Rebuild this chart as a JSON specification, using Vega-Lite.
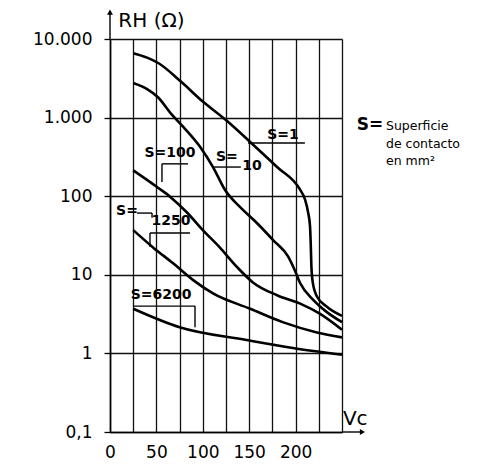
{
  "$schema": "https://vega.github.io/schema/vega-lite/v6.json",
  "width": 232,
  "height": 393,
  "autosize": {"type": "none"},
  "padding": {"left": 110, "top": 39, "right": 142, "bottom": 33},
  "background": "white",
  "config": {"view": {"stroke": null}, "font": "DejaVu Sans"},
  "datasets": {
    "curves": [
      {"S": "1", "x": 25, "y": 6600}, {"S": "1", "x": 40, "y": 5800}, {"S": "1", "x": 52, "y": 4950},
      {"S": "1", "x": 77, "y": 2830}, {"S": "1", "x": 100, "y": 1600}, {"S": "1", "x": 124, "y": 950},
      {"S": "1", "x": 151, "y": 490}, {"S": "1", "x": 180, "y": 235}, {"S": "1", "x": 205, "y": 120},
      {"S": "1", "x": 210, "y": 92}, {"S": "1", "x": 213.5, "y": 62}, {"S": "1", "x": 215.5, "y": 42},
      {"S": "1", "x": 216.3, "y": 25}, {"S": "1", "x": 217, "y": 13}, {"S": "1", "x": 218.5, "y": 8},
      {"S": "1", "x": 223, "y": 5.3}, {"S": "1", "x": 234, "y": 3.9}, {"S": "1", "x": 250, "y": 3.0},
      {"S": "10", "x": 25, "y": 2750}, {"S": "10", "x": 40, "y": 2300}, {"S": "10", "x": 52, "y": 1800},
      {"S": "10", "x": 65, "y": 1150},
      {"S": "10", "x": 79, "y": 760}, {"S": "10", "x": 97, "y": 425}, {"S": "10", "x": 111, "y": 235},
      {"S": "10", "x": 124, "y": 120}, {"S": "10", "x": 140, "y": 73}, {"S": "10", "x": 158, "y": 46},
      {"S": "10", "x": 176, "y": 27.5}, {"S": "10", "x": 192, "y": 17}, {"S": "10", "x": 199, "y": 11.5},
      {"S": "10", "x": 205, "y": 7.8}, {"S": "10", "x": 219, "y": 4.8}, {"S": "10", "x": 233, "y": 3.4},
      {"S": "10", "x": 250, "y": 2.5},
      {"S": "100", "x": 25, "y": 213}, {"S": "100", "x": 51, "y": 130}, {"S": "100", "x": 65, "y": 98},
      {"S": "100", "x": 83, "y": 62}, {"S": "100", "x": 100, "y": 37}, {"S": "100", "x": 118, "y": 22.5},
      {"S": "100", "x": 137, "y": 12.5}, {"S": "100", "x": 154, "y": 8}, {"S": "100", "x": 180, "y": 5.5},
      {"S": "100", "x": 205, "y": 4.3}, {"S": "100", "x": 226, "y": 3.2}, {"S": "100", "x": 250, "y": 2.0},
      {"S": "1250", "x": 25, "y": 37}, {"S": "1250", "x": 47, "y": 22}, {"S": "1250", "x": 68, "y": 14},
      {"S": "1250", "x": 90, "y": 8.5}, {"S": "1250", "x": 111, "y": 5.8}, {"S": "1250", "x": 151, "y": 3.7},
      {"S": "1250", "x": 186, "y": 2.5}, {"S": "1250", "x": 223, "y": 1.85}, {"S": "1250", "x": 250, "y": 1.6},
      {"S": "6200", "x": 25, "y": 3.7}, {"S": "6200", "x": 75, "y": 2.15}, {"S": "6200", "x": 147, "y": 1.48},
      {"S": "6200", "x": 197, "y": 1.17}, {"S": "6200", "x": 250, "y": 0.96}
    ],
    "leaders": [
      {"x": 148.7, "x2": 210, "y": 475, "y2": 475},
      {"x": 110, "x2": 141, "y": 235, "y2": 235},
      {"x": 56, "x2": 84, "y": 258, "y2": 258},
      {"x": 56, "x2": 56, "y": 258, "y2": 152},
      {"x": 29, "x2": 45.3, "y": 61, "y2": 61},
      {"x": 45.3, "x2": 45.3, "y": 61, "y2": 53},
      {"x": 43.1, "x2": 86.2, "y": 34, "y2": 34},
      {"x": 43.1, "x2": 43.1, "y": 34, "y2": 22.6},
      {"x": 24.8, "x2": 91.6, "y": 4.0, "y2": 4.0},
      {"x": 91.6, "x2": 91.6, "y": 4.0, "y2": 2.15},
      {"x": 0, "x2": 0, "y": 10000, "y2": 22000},
      {"x": 250, "x2": 271, "y": 0.1, "y2": 0.1}
    ],
    "curveLabels": [
      {"text": "S=1", "x": 186.4, "y": 601},
      {"text": "S=", "x": 126, "y": 316},
      {"text": "10", "x": 153, "y": 242},
      {"text": "S=100", "x": 64.7, "y": 355},
      {"text": "S=", "x": 18.3, "y": 65},
      {"text": "1250", "x": 65.7, "y": 48},
      {"text": "S=6200", "x": 55, "y": 5.53}
    ],
    "axisTexts": [
      {"text": "RH (Ω)", "x": 9, "y": 16950},
      {"text": "Vc", "x": 251, "y": 0.148}
    ],
    "legendS": [{"text": "S=", "x": 266, "y": 805}],
    "legendText": [
      {"text": "Superficie", "x": 297.4, "y": 781},
      {"text": "de contacto", "x": 297.4, "y": 461},
      {"text": "en mm²", "x": 297.4, "y": 281}
    ],
    "arrows": [
      {"x": 0, "y": 22000, "dir": "up"},
      {"x": 272, "y": 0.1, "dir": "right"}
    ]
  },
  "encoding": {
    "x": {
      "field": "x", "type": "quantitative",
      "scale": {"domain": [0, 250], "nice": false, "zero": false},
      "axis": {
        "title": null,
        "values": [0, 25, 50, 75, 100, 125, 150, 175, 200, 225, 250],
        "labelExpr": "(datum.value % 50 == 0 && datum.value <= 200) ? datum.label : ''",
        "grid": true, "gridColor": "#111", "gridWidth": 1.3, "gridOpacity": 1,
        "ticks": false, "domainColor": "#000", "domainWidth": 1.6,
        "labelFont": "DejaVu Sans", "labelFontSize": 17, "labelColor": "#000",
        "labelPadding": 12, "labelFlush": false, "labelOverlap": false
      }
    },
    "y": {
      "field": "y", "type": "quantitative",
      "scale": {"type": "log", "domain": [0.1, 10000], "nice": false},
      "axis": {
        "title": null,
        "values": [0.1, 1, 10, 100, 1000, 10000],
        "labelExpr": "datum.value >= 9999 ? '10.000' : datum.value >= 999 ? '1.000' : datum.value >= 99 ? '100' : datum.value >= 9 ? '10' : datum.value >= 0.9 ? '1' : '0,1'",
        "grid": true, "gridColor": "#111", "gridWidth": 1.3, "gridOpacity": 1,
        "ticks": true, "tickColor": "#000", "tickSize": 6, "tickWidth": 1.3,
        "domainColor": "#000", "domainWidth": 1.6,
        "labelFont": "DejaVu Sans", "labelFontSize": 17, "labelColor": "#000",
        "labelPadding": 12, "labelFlush": false, "labelOverlap": false
      }
    }
  },
  "layer": [
    {
      "data": {"name": "curves"},
      "mark": {"type": "line", "color": "#000", "strokeWidth": 2.6, "interpolate": "monotone"},
      "encoding": {"detail": {"field": "S", "type": "nominal"}}
    },
    {
      "data": {"name": "leaders"},
      "mark": {"type": "rule", "color": "#000", "strokeWidth": 1.4},
      "encoding": {
        "x2": {"field": "x2"},
        "y2": {"field": "y2"}
      }
    },
    {
      "data": {"name": "arrows"},
      "mark": {"type": "point", "filled": true, "color": "#000", "size": 35, "opacity": 1},
      "encoding": {
        "shape": {"field": "dir", "type": "nominal", "scale": {"domain": ["up", "right"], "range": ["triangle-up", "triangle-right"]}, "legend": null}
      }
    },
    {
      "data": {"name": "curveLabels"},
      "mark": {"type": "text", "font": "DejaVu Sans", "fontSize": 14, "fontWeight": "bold", "color": "#000", "align": "center", "baseline": "middle"},
      "encoding": {"text": {"field": "text"}}
    },
    {
      "data": {"name": "axisTexts"},
      "mark": {"type": "text", "font": "DejaVu Sans", "fontSize": 20, "color": "#000", "align": "left", "baseline": "middle"},
      "encoding": {"text": {"field": "text"}}
    },
    {
      "data": {"name": "legendS"},
      "mark": {"type": "text", "font": "DejaVu Sans", "fontSize": 17, "fontWeight": "bold", "color": "#000", "align": "left", "baseline": "middle"},
      "encoding": {"text": {"field": "text"}}
    },
    {
      "data": {"name": "legendText"},
      "mark": {"type": "text", "font": "DejaVu Sans", "fontSize": 12.5, "color": "#000", "align": "left", "baseline": "middle"},
      "encoding": {"text": {"field": "text"}}
    }
  ]
}
